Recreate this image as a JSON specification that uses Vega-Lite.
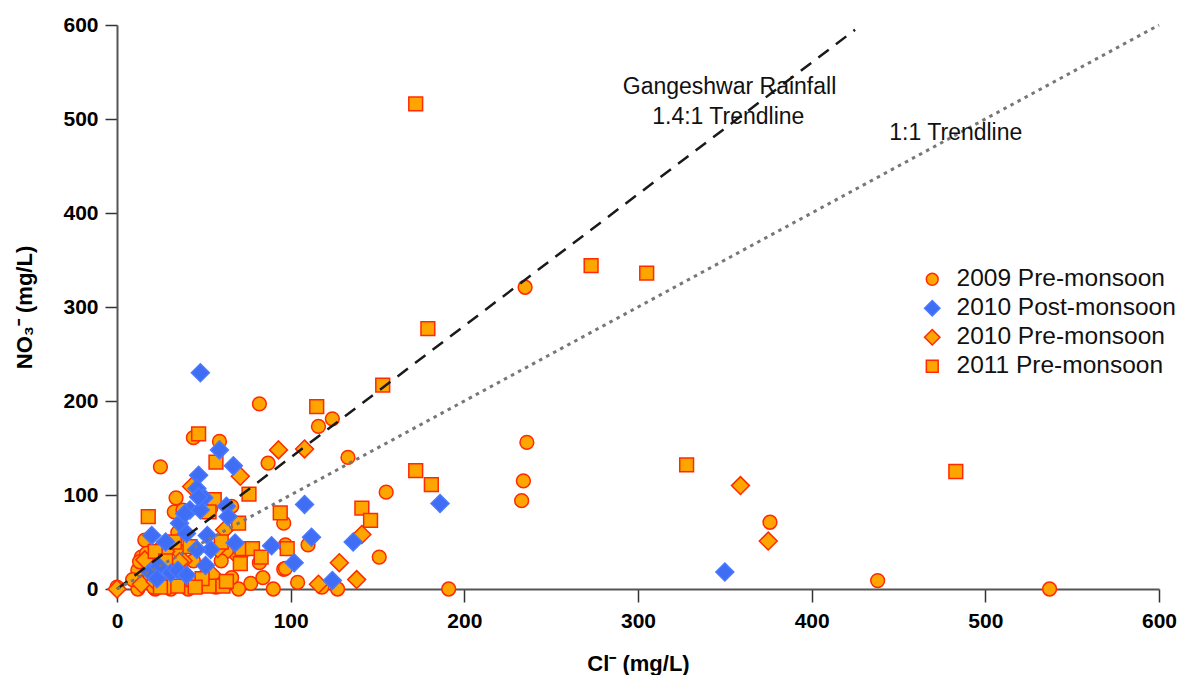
{
  "$schema": "https://vega.github.io/schema/vega-lite/v6.json",
  "width": 1042,
  "height": 564,
  "autosize": {"type": "none"},
  "padding": {"left": 117, "top": 25, "right": 23, "bottom": 86},
  "background": "white",
  "config": {"view": {"stroke": null}, "font": "Liberation Sans"},
  "datasets": {
    "points": [
      {"series": "2009 Pre-monsoon", "cl": 235, "no3": 321},
      {"series": "2009 Pre-monsoon", "cl": 82, "no3": 197},
      {"series": "2009 Pre-monsoon", "cl": 116, "no3": 173},
      {"series": "2009 Pre-monsoon", "cl": 124, "no3": 181},
      {"series": "2009 Pre-monsoon", "cl": 44, "no3": 161},
      {"series": "2009 Pre-monsoon", "cl": 59, "no3": 157},
      {"series": "2009 Pre-monsoon", "cl": 25, "no3": 130},
      {"series": "2009 Pre-monsoon", "cl": 87, "no3": 134},
      {"series": "2009 Pre-monsoon", "cl": 133, "no3": 140},
      {"series": "2009 Pre-monsoon", "cl": 155, "no3": 103},
      {"series": "2009 Pre-monsoon", "cl": 236, "no3": 156},
      {"series": "2009 Pre-monsoon", "cl": 234, "no3": 115},
      {"series": "2009 Pre-monsoon", "cl": 233, "no3": 94},
      {"series": "2009 Pre-monsoon", "cl": 376, "no3": 71},
      {"series": "2009 Pre-monsoon", "cl": 438, "no3": 9},
      {"series": "2009 Pre-monsoon", "cl": 537, "no3": 0},
      {"series": "2009 Pre-monsoon", "cl": 191, "no3": 0},
      {"series": "2009 Pre-monsoon", "cl": 96, "no3": 70},
      {"series": "2009 Pre-monsoon", "cl": 110, "no3": 47},
      {"series": "2009 Pre-monsoon", "cl": 82, "no3": 28},
      {"series": "2009 Pre-monsoon", "cl": 96, "no3": 21},
      {"series": "2009 Pre-monsoon", "cl": 151, "no3": 34},
      {"series": "2009 Pre-monsoon", "cl": 77, "no3": 6},
      {"series": "2009 Pre-monsoon", "cl": 90, "no3": 0},
      {"series": "2009 Pre-monsoon", "cl": 104, "no3": 7},
      {"series": "2009 Pre-monsoon", "cl": 118, "no3": 2},
      {"series": "2009 Pre-monsoon", "cl": 127, "no3": 0},
      {"series": "2009 Pre-monsoon", "cl": 34, "no3": 97},
      {"series": "2009 Pre-monsoon", "cl": 33, "no3": 82},
      {"series": "2009 Pre-monsoon", "cl": 38, "no3": 84},
      {"series": "2009 Pre-monsoon", "cl": 54, "no3": 86},
      {"series": "2009 Pre-monsoon", "cl": 66, "no3": 88},
      {"series": "2009 Pre-monsoon", "cl": 16, "no3": 52},
      {"series": "2009 Pre-monsoon", "cl": 12, "no3": 20},
      {"series": "2009 Pre-monsoon", "cl": 14, "no3": 34},
      {"series": "2009 Pre-monsoon", "cl": 0, "no3": 2},
      {"series": "2009 Pre-monsoon", "cl": 12, "no3": 0},
      {"series": "2009 Pre-monsoon", "cl": 22, "no3": 0},
      {"series": "2009 Pre-monsoon", "cl": 31, "no3": 0},
      {"series": "2009 Pre-monsoon", "cl": 41, "no3": 0},
      {"series": "2009 Pre-monsoon", "cl": 97, "no3": 47},
      {"series": "2009 Pre-monsoon", "cl": 97, "no3": 22},
      {"series": "2009 Pre-monsoon", "cl": 21, "no3": 2},
      {"series": "2009 Pre-monsoon", "cl": 29, "no3": 6},
      {"series": "2009 Pre-monsoon", "cl": 40, "no3": 10},
      {"series": "2009 Pre-monsoon", "cl": 48, "no3": 4},
      {"series": "2009 Pre-monsoon", "cl": 57, "no3": 2},
      {"series": "2009 Pre-monsoon", "cl": 13, "no3": 29},
      {"series": "2009 Pre-monsoon", "cl": 17, "no3": 38},
      {"series": "2009 Pre-monsoon", "cl": 70, "no3": 0},
      {"series": "2009 Pre-monsoon", "cl": 63, "no3": 40},
      {"series": "2009 Pre-monsoon", "cl": 26, "no3": 45},
      {"series": "2009 Pre-monsoon", "cl": 35, "no3": 60},
      {"series": "2009 Pre-monsoon", "cl": 44, "no3": 30},
      {"series": "2009 Pre-monsoon", "cl": 30, "no3": 25},
      {"series": "2009 Pre-monsoon", "cl": 19, "no3": 12},
      {"series": "2009 Pre-monsoon", "cl": 66, "no3": 12},
      {"series": "2009 Pre-monsoon", "cl": 52, "no3": 20},
      {"series": "2009 Pre-monsoon", "cl": 36, "no3": 40},
      {"series": "2009 Pre-monsoon", "cl": 60, "no3": 30},
      {"series": "2009 Pre-monsoon", "cl": 84, "no3": 12},
      {"series": "2009 Pre-monsoon", "cl": 9, "no3": 10},
      {"series": "2010 Pre-monsoon", "cl": 93, "no3": 148},
      {"series": "2010 Pre-monsoon", "cl": 108, "no3": 149},
      {"series": "2010 Pre-monsoon", "cl": 71, "no3": 120},
      {"series": "2010 Pre-monsoon", "cl": 43, "no3": 109},
      {"series": "2010 Pre-monsoon", "cl": 141, "no3": 58},
      {"series": "2010 Pre-monsoon", "cl": 128, "no3": 28},
      {"series": "2010 Pre-monsoon", "cl": 116, "no3": 5},
      {"series": "2010 Pre-monsoon", "cl": 138, "no3": 10},
      {"series": "2010 Pre-monsoon", "cl": 359, "no3": 110},
      {"series": "2010 Pre-monsoon", "cl": 375, "no3": 51},
      {"series": "2010 Pre-monsoon", "cl": 62, "no3": 63},
      {"series": "2010 Pre-monsoon", "cl": 58, "no3": 43},
      {"series": "2010 Pre-monsoon", "cl": 0, "no3": 0},
      {"series": "2010 Pre-monsoon", "cl": 14, "no3": 5},
      {"series": "2010 Pre-monsoon", "cl": 22, "no3": 8},
      {"series": "2010 Pre-monsoon", "cl": 30, "no3": 3},
      {"series": "2010 Pre-monsoon", "cl": 45, "no3": 6},
      {"series": "2010 Pre-monsoon", "cl": 18, "no3": 28},
      {"series": "2010 Pre-monsoon", "cl": 38, "no3": 30},
      {"series": "2010 Pre-monsoon", "cl": 28, "no3": 40},
      {"series": "2010 Pre-monsoon", "cl": 55, "no3": 15},
      {"series": "2010 Pre-monsoon", "cl": 70, "no3": 34},
      {"series": "2010 Pre-monsoon", "cl": 16, "no3": 31},
      {"series": "2010 Pre-monsoon", "cl": 42, "no3": 10},
      {"series": "2010 Pre-monsoon", "cl": 36, "no3": 29},
      {"series": "2011 Pre-monsoon", "cl": 172, "no3": 516},
      {"series": "2011 Pre-monsoon", "cl": 273, "no3": 344},
      {"series": "2011 Pre-monsoon", "cl": 305, "no3": 336},
      {"series": "2011 Pre-monsoon", "cl": 179, "no3": 277},
      {"series": "2011 Pre-monsoon", "cl": 153, "no3": 217},
      {"series": "2011 Pre-monsoon", "cl": 115, "no3": 194},
      {"series": "2011 Pre-monsoon", "cl": 328, "no3": 132},
      {"series": "2011 Pre-monsoon", "cl": 483, "no3": 125},
      {"series": "2011 Pre-monsoon", "cl": 172, "no3": 126},
      {"series": "2011 Pre-monsoon", "cl": 181, "no3": 111},
      {"series": "2011 Pre-monsoon", "cl": 141, "no3": 86},
      {"series": "2011 Pre-monsoon", "cl": 146, "no3": 73},
      {"series": "2011 Pre-monsoon", "cl": 76, "no3": 101},
      {"series": "2011 Pre-monsoon", "cl": 94, "no3": 81},
      {"series": "2011 Pre-monsoon", "cl": 47, "no3": 165},
      {"series": "2011 Pre-monsoon", "cl": 57, "no3": 135},
      {"series": "2011 Pre-monsoon", "cl": 18, "no3": 77},
      {"series": "2011 Pre-monsoon", "cl": 56, "no3": 95},
      {"series": "2011 Pre-monsoon", "cl": 53, "no3": 82},
      {"series": "2011 Pre-monsoon", "cl": 70, "no3": 70},
      {"series": "2011 Pre-monsoon", "cl": 72, "no3": 43},
      {"series": "2011 Pre-monsoon", "cl": 78, "no3": 43},
      {"series": "2011 Pre-monsoon", "cl": 83, "no3": 34},
      {"series": "2011 Pre-monsoon", "cl": 98, "no3": 43},
      {"series": "2011 Pre-monsoon", "cl": 71, "no3": 27},
      {"series": "2011 Pre-monsoon", "cl": 53, "no3": 3},
      {"series": "2011 Pre-monsoon", "cl": 61, "no3": 3},
      {"series": "2011 Pre-monsoon", "cl": 63, "no3": 8},
      {"series": "2011 Pre-monsoon", "cl": 49, "no3": 11},
      {"series": "2011 Pre-monsoon", "cl": 22, "no3": 40},
      {"series": "2011 Pre-monsoon", "cl": 25, "no3": 2},
      {"series": "2011 Pre-monsoon", "cl": 35, "no3": 3},
      {"series": "2011 Pre-monsoon", "cl": 45, "no3": 2},
      {"series": "2011 Pre-monsoon", "cl": 33, "no3": 50},
      {"series": "2011 Pre-monsoon", "cl": 42, "no3": 45},
      {"series": "2011 Pre-monsoon", "cl": 60, "no3": 50},
      {"series": "2011 Pre-monsoon", "cl": 28, "no3": 30},
      {"series": "2010 Post-monsoon", "cl": 48, "no3": 230},
      {"series": "2010 Post-monsoon", "cl": 59, "no3": 148},
      {"series": "2010 Post-monsoon", "cl": 47, "no3": 121},
      {"series": "2010 Post-monsoon", "cl": 67, "no3": 131},
      {"series": "2010 Post-monsoon", "cl": 46, "no3": 107},
      {"series": "2010 Post-monsoon", "cl": 50, "no3": 97},
      {"series": "2010 Post-monsoon", "cl": 42, "no3": 84},
      {"series": "2010 Post-monsoon", "cl": 48, "no3": 84},
      {"series": "2010 Post-monsoon", "cl": 63, "no3": 88},
      {"series": "2010 Post-monsoon", "cl": 64, "no3": 77},
      {"series": "2010 Post-monsoon", "cl": 36, "no3": 70},
      {"series": "2010 Post-monsoon", "cl": 39, "no3": 80},
      {"series": "2010 Post-monsoon", "cl": 47, "no3": 98},
      {"series": "2010 Post-monsoon", "cl": 40, "no3": 59},
      {"series": "2010 Post-monsoon", "cl": 52, "no3": 57},
      {"series": "2010 Post-monsoon", "cl": 20, "no3": 57},
      {"series": "2010 Post-monsoon", "cl": 28, "no3": 50},
      {"series": "2010 Post-monsoon", "cl": 68, "no3": 49},
      {"series": "2010 Post-monsoon", "cl": 89, "no3": 46},
      {"series": "2010 Post-monsoon", "cl": 54, "no3": 42},
      {"series": "2010 Post-monsoon", "cl": 46, "no3": 42},
      {"series": "2010 Post-monsoon", "cl": 102, "no3": 28},
      {"series": "2010 Post-monsoon", "cl": 19, "no3": 18},
      {"series": "2010 Post-monsoon", "cl": 24, "no3": 24},
      {"series": "2010 Post-monsoon", "cl": 31, "no3": 17},
      {"series": "2010 Post-monsoon", "cl": 35, "no3": 20},
      {"series": "2010 Post-monsoon", "cl": 40, "no3": 15},
      {"series": "2010 Post-monsoon", "cl": 51, "no3": 25},
      {"series": "2010 Post-monsoon", "cl": 108, "no3": 90},
      {"series": "2010 Post-monsoon", "cl": 112, "no3": 55},
      {"series": "2010 Post-monsoon", "cl": 136, "no3": 50},
      {"series": "2010 Post-monsoon", "cl": 124, "no3": 9},
      {"series": "2010 Post-monsoon", "cl": 186, "no3": 91},
      {"series": "2010 Post-monsoon", "cl": 350, "no3": 18},
      {"series": "2010 Post-monsoon", "cl": 23, "no3": 11}
    ],
    "lines": [
      {"line": "rain", "cl": 0, "no3": 0},
      {"line": "rain", "cl": 425, "no3": 595},
      {"line": "one", "cl": 0, "no3": 0},
      {"line": "one", "cl": 600, "no3": 600}
    ],
    "labels": [
      {"text": "Gangeshwar Rainfall", "cl": 352.7, "no3": 527},
      {"text": "1.4:1 Trendline", "cl": 352, "no3": 494.5},
      {"text": "1:1 Trendline", "cl": 483, "no3": 478}
    ]
  },
  "layer": [
    {
      "data": {"name": "points"},
      "mark": {"type": "point", "filled": true, "opacity": 1, "strokeWidth": 1.5, "size": 190},
      "encoding": {
        "x": {
          "field": "cl", "type": "quantitative",
          "scale": {"domain": [0, 600], "nice": false, "zero": false},
          "axis": {
            "title": "Cl⁻ (mg/L)", "values": [0, 100, 200, 300, 400, 500, 600], "grid": false,
            "domainColor": "#555", "domainWidth": 2, "tickColor": "#333", "tickWidth": 1.5, "tickSize": 13,
            "labelFont": "Liberation Sans", "labelFontSize": 21, "labelFontWeight": "bold", "labelColor": "#000",
            "labelPadding": 8, "labelFlush": false,
            "titleFont": "Liberation Sans", "titleFontSize": 22, "titleFontWeight": "bold", "titleColor": "#000",
            "titleY": 81, "titleBaseline": "alphabetic"
          }
        },
        "y": {
          "field": "no3", "type": "quantitative",
          "scale": {"domain": [0, 600], "nice": false, "zero": false},
          "axis": {
            "title": "NO₃⁻ (mg/L)", "values": [0, 100, 200, 300, 400, 500, 600], "grid": false,
            "domainColor": "#555", "domainWidth": 2, "tickColor": "#333", "tickWidth": 1.5, "tickSize": 12,
            "labelFont": "Liberation Sans", "labelFontSize": 21, "labelFontWeight": "bold", "labelColor": "#000",
            "labelPadding": 7, "labelFlush": false,
            "titleFont": "Liberation Sans", "titleFontSize": 22, "titleFontWeight": "bold", "titleColor": "#000",
            "titleX": -93, "titleY": 282, "titleBaseline": "middle", "titleAlign": "center", "titleAngle": -90
          }
        },
        "shape": {
          "field": "series", "type": "nominal",
          "scale": {
            "domain": ["2009 Pre-monsoon", "2010 Post-monsoon", "2010 Pre-monsoon", "2011 Pre-monsoon"],
            "range": ["circle", "M0,-1.3L1.3,0L0,1.3L-1.3,0Z", "M0,-1.3L1.3,0L0,1.3L-1.3,0Z", "square"]
          },
          "legend": {
            "title": null, "orient": "none", "legendX": 803, "legendY": 242,
            "labelFont": "Liberation Sans", "labelFontSize": 24.5, "labelColor": "#111", "labelLimit": 400,
            "symbolSize": 140, "symbolStrokeWidth": 1.5, "rowPadding": 4, "labelOffset": 12
          }
        },
        "fill": {
          "field": "series", "type": "nominal",
          "scale": {
            "domain": ["2009 Pre-monsoon", "2010 Post-monsoon", "2010 Pre-monsoon", "2011 Pre-monsoon"],
            "range": ["#FFA500", "#3F6EF5", "#FFA500", "#FFA500"]
          },
          "legend": {
            "title": null, "orient": "none", "legendX": 803, "legendY": 242,
            "labelFont": "Liberation Sans", "labelFontSize": 24.5, "labelColor": "#111", "labelLimit": 400,
            "symbolSize": 140, "symbolStrokeWidth": 1.5, "rowPadding": 4, "labelOffset": 12
          }
        },
        "stroke": {
          "field": "series", "type": "nominal",
          "scale": {
            "domain": ["2009 Pre-monsoon", "2010 Post-monsoon", "2010 Pre-monsoon", "2011 Pre-monsoon"],
            "range": ["#FF2A00", "#4A78FF", "#FF2A00", "#FF2A00"]
          },
          "legend": {
            "title": null, "orient": "none", "legendX": 803, "legendY": 242,
            "labelFont": "Liberation Sans", "labelFontSize": 24.5, "labelColor": "#111", "labelLimit": 400,
            "symbolSize": 140, "symbolStrokeWidth": 1.5, "rowPadding": 4, "labelOffset": 12
          }
        }
      }
    },
    {
      "data": {"name": "lines"},
      "transform": [{"filter": "datum.line === 'rain'"}],
      "mark": {"type": "line", "color": "#1a1a1a", "strokeWidth": 2.5, "strokeDash": [13, 9]},
      "encoding": {
        "x": {"field": "cl", "type": "quantitative"},
        "y": {"field": "no3", "type": "quantitative"}
      }
    },
    {
      "data": {"name": "lines"},
      "transform": [{"filter": "datum.line === 'one'"}],
      "mark": {"type": "line", "color": "#777777", "strokeWidth": 3, "strokeDash": [3.5, 4.5]},
      "encoding": {
        "x": {"field": "cl", "type": "quantitative"},
        "y": {"field": "no3", "type": "quantitative"}
      }
    },
    {
      "data": {"name": "labels"},
      "mark": {"type": "text", "font": "Liberation Sans", "fontSize": 23, "align": "center", "baseline": "alphabetic", "color": "#111"},
      "encoding": {
        "x": {"field": "cl", "type": "quantitative"},
        "y": {"field": "no3", "type": "quantitative"},
        "text": {"field": "text", "type": "nominal"}
      }
    }
  ]
}
